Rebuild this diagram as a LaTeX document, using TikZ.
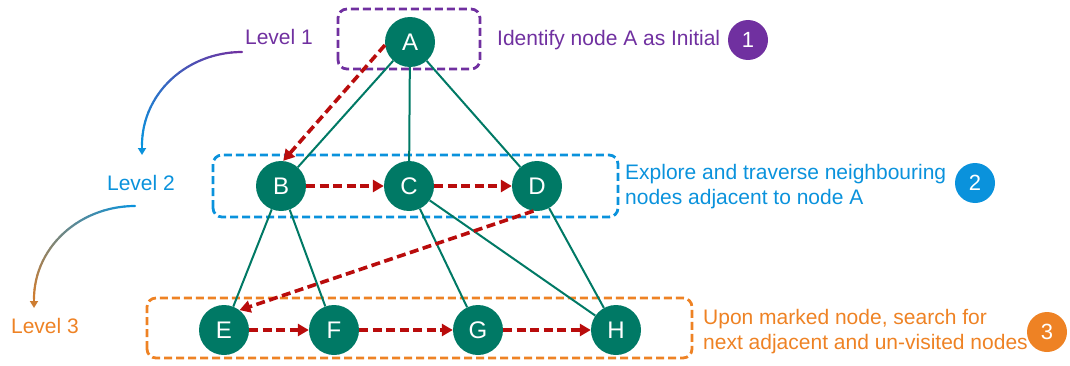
\documentclass[tikz,border=0pt]{standalone}
\usepackage{fontspec}
\setmainfont{Liberation Sans}
\usetikzlibrary{arrows.meta}

\definecolor{nodegreen}{RGB}{0,121,101}
\definecolor{visitred}{RGB}{185,12,12}
\definecolor{lvpurple}{RGB}{112,48,160}
\definecolor{lvblue}{RGB}{10,146,220}
\definecolor{lvorange}{RGB}{238,130,36}
\definecolor{lvbrown}{RGB}{205,125,50}

\begin{document}
\begin{tikzpicture}[x=1pt,y=1pt,
  vert/.style={circle, fill=nodegreen, minimum size=50pt, inner sep=0pt,
    text=white, font=\fontsize{24}{24}\selectfont},
  edge/.style={draw=nodegreen, line width=2pt},
  visit/.style={draw=visitred, line width=3.6pt, dash pattern=on 9pt off 4.5pt,
    -{Triangle[length=11pt,width=12pt]}},
  group/.style={rounded corners=9pt, line width=2.8pt, dash pattern=on 8pt off 4pt},
  badge/.style={circle, minimum size=40pt, inner sep=0pt, text=white,
    font=\fontsize{22}{22}\selectfont},
  note/.style={align=left, anchor=west, inner sep=0pt,
    font=\fontsize{21}{25}\selectfont},
  lvl/.style={inner sep=0pt, font=\fontsize{21}{21}\selectfont},
]
\useasboundingbox (0,0) rectangle (1070,365);

% level groupings
\draw[group, lvpurple] (338,296) rectangle (480,356);
\draw[group, lvblue]   (213,148) rectangle (618,210);
\draw[group, lvorange] (147,7)   rectangle (692,67);

% vertices
\node[vert] (A) at (410,323) {A};
\node[vert] (B) at (281,179) {B};
\node[vert] (C) at (409,179) {C};
\node[vert] (D) at (537,179) {D};
\node[vert] (E) at (224,35)  {E};
\node[vert] (F) at (334,35)  {F};
\node[vert] (G) at (478,35)  {G};
\node[vert] (H) at (616,35)  {H};

% graph edges
\draw[edge] (A) -- (B);
\draw[edge] (A) -- (C);
\draw[edge] (A) -- (D);
\draw[edge] (B) -- (E);
\draw[edge] (B) -- (F);
\draw[edge] (C) -- (G);
\draw[edge] (C) -- (H);
\draw[edge] (D) -- (H);

% traversal order
\draw[visit] (A.187) -- (B.85);
\draw[visit] (B) -- (C);
\draw[visit] (C) -- (D);
\draw[visit] (D.262) -- (E.52);
\draw[visit] (E) -- (F);
\draw[visit] (F) -- (G);
\draw[visit] (G) -- (H);

% level labels
\node[lvl, text=lvpurple] (L1) at (279,328) {Level 1};
\node[lvl, text=lvblue]   (L2) at (141,182) {Level 2};
\node[lvl, text=lvorange] (L3) at (45,39)   {Level 3};

% shaded arcs between level labels
\foreach \i in {0,...,29} {
  \pgfmathsetmacro\ta{3*\i}
  \pgfmathsetmacro\tb{3*\i+3}
  \pgfmathtruncatemacro\p{100-\i*100/29}
  \draw[line width=2.2pt, line cap=round, color=lvpurple!\p!lvblue]
    ({242-100*sin(\ta)},{220+93*cos(\ta)}) -- ({242-100*sin(\tb)},{220+93*cos(\tb)});
  \draw[line width=2.2pt, line cap=round, color=lvblue!\p!lvbrown]
    ({135-101*sin(\ta)},{66+93*cos(\ta)}) -- ({135-101*sin(\tb)},{66+93*cos(\tb)});
}
\coordinate (a1) at (142,221);
\coordinate (a1t) at (142,210);
\coordinate (a2) at (34,67);
\coordinate (a2t) at (34,57);
\draw[lvblue, line width=2.2pt, -{Triangle[length=7pt,width=8pt]}] (a1) -- (a1t);
\draw[lvbrown, line width=2.2pt, -{Triangle[length=7pt,width=8pt]}] (a2) -- (a2t);

% step descriptions
\node[note, text=lvpurple] (t1) at (497,325) {Identify node A as Initial};
\node[badge, fill=lvpurple] (n1) at (748,325) {1};

\node[note, text=lvblue] (t2) at (625,178)
  {Explore and traverse neighbouring\\nodes adjacent to node A};
\node[badge, fill=lvblue] (n2) at (975,182) {2};

\node[note, text=lvorange] (t3) at (703,33)
  {Upon marked node, search for\\next adjacent and un-visited nodes};
\node[badge, fill=lvorange] (n3) at (1047,33) {3};
\end{tikzpicture}
\end{document}
